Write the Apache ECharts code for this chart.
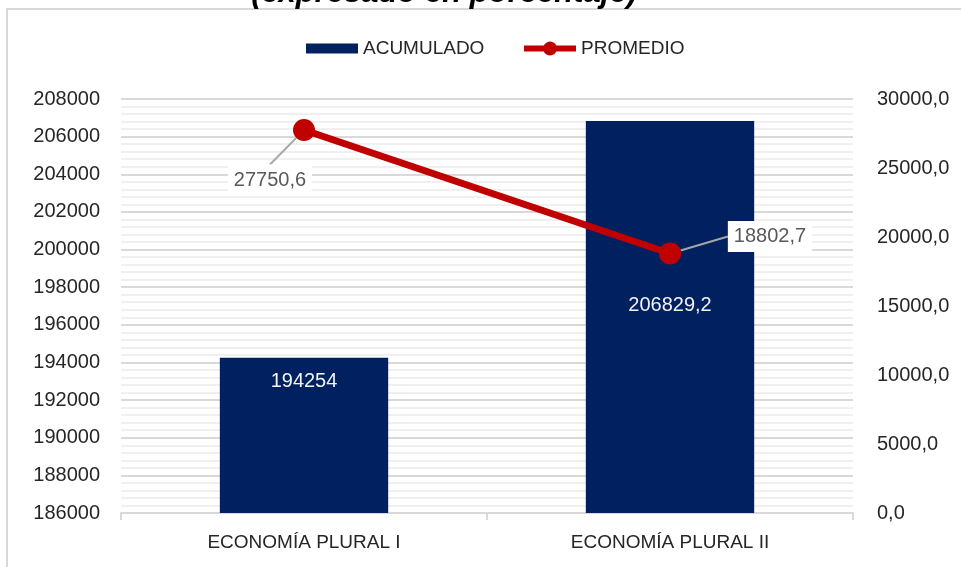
<!DOCTYPE html>
<html>
<head>
<meta charset="utf-8">
<script src="https://cdn.jsdelivr.net/npm/echarts@6/dist/echarts.min.js"></script>
<style>
html,body{margin:0;padding:0;background:#fff;}
#c{width:961px;height:567px;}
</style>
</head>
<body>
<div id="c"></div>
<script>
const categories = ['ECONOMÍA PLURAL I', 'ECONOMÍA PLURAL II'];
const acumulado = [194254, 206829.2];
const promedio = [27750.6, 18802.7];
const seriesNames = ['ACUMULADO', 'PROMEDIO'];
const titleText = '(expresado en porcentaje)';

const FONT = "'Liberation Sans', Arial, sans-serif";
const fmtComma = v => String(v).replace('.', ',');

const chart = echarts.init(document.getElementById('c'), null, {renderer: 'canvas'});

// per-label layout tweaks (not data)
const barLabelDistance = [14, 174];
const lineLabelShift = [[-34, 50], [100, -17]];

const lineLegendIcon = 'path://M0,4H19.68A7,7 0 0 1 32.32,4H52V10H32.32A7,7 0 0 1 19.68,10H0Z';

const option = {
  animation: false,
  backgroundColor: '#ffffff',
  textStyle: {fontFamily: FONT},
  graphic: [
    {
      type: 'rect', silent: true, z: 100,
      shape: {x: 7, y: 9, width: 1000, height: 600},
      style: {fill: 'none', stroke: '#d9d9d9', lineWidth: 2}
    },
    {
      type: 'text', silent: true, z: 100,
      x: 444, y: 9,
      style: {
        text: titleText, align: 'center', verticalAlign: 'bottom',
        font: "italic bold 31px 'Liberation Sans', Arial, sans-serif",
        fill: '#000000'
      }
    }
  ],
  legend: [
    {
      data: [seriesNames[0]],
      left: 301, top: 34,
      icon: 'rect',
      itemWidth: 52, itemHeight: 10,
      textStyle: {fontFamily: FONT, fontSize: 19, color: '#262626'}
    },
    {
      data: [seriesNames[1]],
      left: 519, top: 34,
      icon: lineLegendIcon,
      itemWidth: 52, itemHeight: 14,
      textStyle: {fontFamily: FONT, fontSize: 19, color: '#262626'}
    }
  ],
  grid: {left: 121, right: 108, top: 99, bottom: 54, containLabel: false},
  xAxis: {
    type: 'category',
    data: categories,
    axisLine: {lineStyle: {color: '#d9d9d9', width: 2}},
    axisTick: {show: true, length: 7, lineStyle: {color: '#d9d9d9', width: 2}},
    axisLabel: {fontFamily: FONT, fontSize: 19, color: '#262626', margin: 20}
  },
  yAxis: [
    {
      type: 'value', min: 186000, max: 208000, interval: 2000,
      axisLine: {show: false}, axisTick: {show: false},
      axisLabel: {fontFamily: FONT, fontSize: 20, color: '#262626', margin: 21,
        formatter: v => String(v)},
      splitLine: {show: true, lineStyle: {color: '#d9d9d9', width: 2}},
      minorTick: {show: false, splitNumber: 5},
      minorSplitLine: {show: true, lineStyle: {color: '#f0f0f0', width: 2}}
    },
    {
      type: 'value', min: 0, max: 30000, interval: 5000,
      axisLine: {show: false}, axisTick: {show: false},
      splitLine: {show: false},
      axisLabel: {fontFamily: FONT, fontSize: 20, color: '#262626', margin: 24,
        formatter: v => v.toFixed(1).replace('.', ',')}
    }
  ],
  series: [
    {
      name: seriesNames[0],
      type: 'bar',
      yAxisIndex: 0,
      barWidth: '46%',
      itemStyle: {color: '#002060'},
      data: acumulado.map((v, i) => ({
        value: v,
        label: {distance: barLabelDistance[i]}
      })),
      label: {
        show: true, position: 'insideTop',
        color: '#f2f2f2', fontFamily: FONT, fontSize: 20,
        formatter: p => fmtComma(p.value)
      },
      z: 2
    },
    {
      name: seriesNames[1],
      type: 'line',
      yAxisIndex: 1,
      data: promedio,
      symbol: 'circle',
      symbolSize: 22,
      lineStyle: {color: '#c00000', width: 7},
      itemStyle: {color: '#c00000'},
      label: {
        show: true, position: 'inside',
        color: '#595959', fontFamily: FONT, fontSize: 20,
        backgroundColor: '#ffffff', padding: [6, 6, 5, 6],
        formatter: p => fmtComma(p.value)
      },
      labelLine: {show: true, lineStyle: {color: '#a6a6a6', width: 2}},
      labelLayout: p => ({
        dx: lineLabelShift[p.dataIndex][0],
        dy: lineLabelShift[p.dataIndex][1]
      }),
      z: 5
    }
  ]
};
chart.setOption(option);
</script>
</body>
</html>
